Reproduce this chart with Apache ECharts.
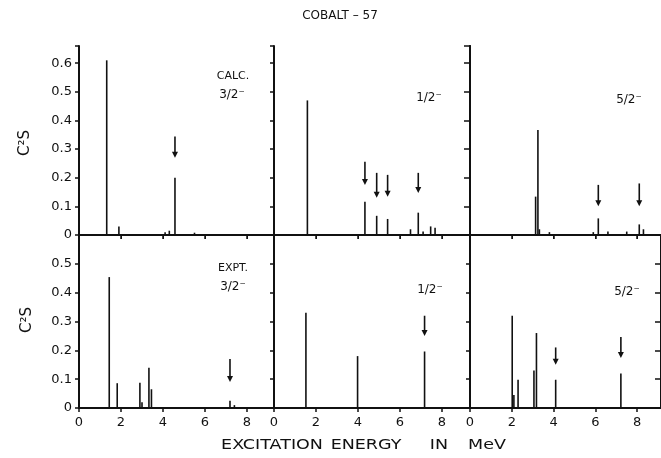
<!DOCTYPE html>
<html>
<head>
    <meta charset="utf-8">
    <script src="https://cdn.jsdelivr.net/npm/echarts@6/dist/echarts.min.js"></script>
</head>
<body style="margin:0;background:#fff">
<div id="main" style="width: 661px; height: 458px;"></div>
<script type="text/javascript">
    // lines: [energy MeV, C2S]   arrows: [energy, top, bottom]
    let calc32 = [[1.32, 0.61], [1.9, 0.03], [4.1, 0.01], [4.3, 0.015], [4.57, 0.2], [5.5, 0.008]]
    let calc12 = [[1.59, 0.47], [4.33, 0.116], [4.89, 0.067], [5.41, 0.056], [6.5, 0.02], [6.87, 0.078], [7.1, 0.012], [7.46, 0.03], [7.67, 0.025]]
    let calc52 = [[3.14, 0.134], [3.25, 0.367], [3.32, 0.02], [3.8, 0.01], [5.9, 0.01], [6.14, 0.058], [6.6, 0.012], [7.5, 0.012], [8.1, 0.037], [8.3, 0.02]]
    let expt32 = [[1.44, 0.454], [1.82, 0.086], [2.9, 0.088], [3.0, 0.02], [3.33, 0.14], [3.45, 0.065], [7.19, 0.025], [7.4, 0.01]]
    let expt12 = [[1.52, 0.33], [3.98, 0.18], [7.17, 0.196]]
    let expt52 = [[2.02, 0.32], [2.1, 0.045], [2.3, 0.098], [3.06, 0.13], [3.18, 0.26], [4.1, 0.098], [7.22, 0.12]]

    let arrCalc32 = [[4.57, 0.344, 0.27]]
    let arrCalc12 = [[4.33, 0.256, 0.175], [4.89, 0.217, 0.13], [5.41, 0.21, 0.134], [6.87, 0.217, 0.147]]
    let arrCalc52 = [[6.14, 0.175, 0.1], [8.1, 0.18, 0.1]]
    let arrExpt32 = [[7.19, 0.17, 0.09]]
    let arrExpt12 = [[7.17, 0.32, 0.25]]
    let arrExpt52 = [[4.1, 0.21, 0.15], [7.22, 0.246, 0.173]]

    let xTicks = [0, 2, 4, 6, 8]
    let yTicks = [0, 0.1, 0.2, 0.3, 0.4, 0.5, 0.6]

    let lines = [calc32, calc12, calc52, expt32, expt12, expt52]
    let arrows = [arrCalc32, arrCalc12, arrCalc52, arrExpt32, arrExpt12, arrExpt52]

    let myChart = echarts.init(document.getElementById('main'))
    let ink = '#111'
    let font = 'DejaVu Sans'

    let colLeft = [79, 274, 470]
    let xMax = [9.29, 9.33, 9.14]
    let pxPerMeV = 21

    let grid = []
    let xAxis = []
    let yAxis = []
    let series = []

    function yLabel(v) {
        let hit = yTicks.find(t => Math.abs(t - v) < 1e-6)
        if (hit === undefined) return ''
        return hit === 0 ? '0' : hit.toFixed(1)
    }

    function xLabel(v) {
        return xTicks.indexOf(v) >= 0 ? String(v) : ''
    }

    for (let i = 0; i < 6; i++) {
        let row = Math.floor(i / 3)
        let col = i % 3
        grid.push({
            left: colLeft[col],
            top: row === 0 ? 46 : 235,
            width: xMax[col] * pxPerMeV,
            height: row === 0 ? 189 : 173
        })
        xAxis.push({
            type: 'value', gridIndex: i, min: 0, max: xMax[col], interval: 2,
            axisLine: {onZero: false, lineStyle: {color: ink, width: 2}},
            axisTick: {show: true, length: 4, lineStyle: {color: ink, width: 1.5}},
            axisLabel: {
                show: row === 1, formatter: xLabel, showMaxLabel: false,
                color: ink, fontFamily: font, fontSize: 13, margin: 8
            },
            splitLine: {show: false}
        })
        yAxis.push({
            type: 'value', gridIndex: i, min: 0, max: row === 0 ? 0.66 : 0.6, interval: 0.1,
            axisLine: {show: true, lineStyle: {color: ink, width: 2}},
            axisTick: {show: true, length: 4, lineStyle: {color: ink, width: 1.5}},
            axisLabel: {
                show: col === 0, formatter: yLabel, showMaxLabel: row === 0,
                color: ink, fontFamily: font, fontSize: 13, margin: 7
            },
            splitLine: {show: false}
        })
        series.push({
            type: 'bar', xAxisIndex: i, yAxisIndex: i,
            barWidth: 1.6, itemStyle: {color: ink},
            data: lines[i], silent: true, animation: false
        })
        series.push({
            type: 'custom', xAxisIndex: i, yAxisIndex: i,
            data: arrows[i], silent: true, animation: false,
            renderItem: function (params, api) {
                let top = api.coord([api.value(0), api.value(1)])
                let bot = api.coord([api.value(0), api.value(2)])
                return {
                    type: 'group',
                    children: [
                        {type: 'line', shape: {x1: top[0], y1: top[1], x2: bot[0], y2: bot[1] - 4},
                            style: {stroke: ink, lineWidth: 1.6}},
                        {type: 'polygon', shape: {points: [[bot[0] - 3, bot[1] - 6], [bot[0] + 3, bot[1] - 6], [bot[0], bot[1]]]},
                            style: {fill: ink}}
                    ]
                }
            }
        })
    }

    // top frame of upper row
    for (let c = 0; c < 3; c++) {
        xAxis.push({
            type: 'value', gridIndex: c, position: 'top', min: 0, max: xMax[c], interval: 2,
            axisLine: {lineStyle: {color: ink, width: 2}},
            axisTick: {inside: true, length: 4, lineStyle: {color: ink}},
            axisLabel: {show: false}, splitLine: {show: false}
        })
    }
    // right frame with inside ticks
    for (let g of [2, 5]) {
        yAxis.push({
            type: 'value', gridIndex: g, position: 'right', min: 0, max: g === 2 ? 0.66 : 0.6, interval: 0.1,
            axisLine: {show: true, lineStyle: {color: ink, width: 2}},
            axisTick: {inside: true, length: 6, lineStyle: {color: ink, width: 1.5}},
            axisLabel: {show: false}, splitLine: {show: false}
        })
    }

    function txt(x, y, s, size, extra) {
        return Object.assign({
            type: 'text', x: x, y: y, silent: true,
            style: {text: s, fill: ink, font: size + 'px "' + font + '"', align: 'center', verticalAlign: 'middle'}
        }, extra || {})
    }

    let wide = {scaleX: 1.25}

    let graphic = [
        txt(340, 16, 'COBALT – 57', 12),
        txt(233, 76, 'CALC.', 11),
        txt(232, 95, '3/2⁻', 12),
        txt(429, 98, '1/2⁻', 12),
        txt(629, 100, '5/2⁻', 12),
        txt(233, 268, 'EXPT.', 11),
        txt(233, 287, '3/2⁻', 12),
        txt(430, 290, '1/2⁻', 12),
        txt(627, 292, '5/2⁻', 12),
        txt(25, 143, 'C²S', 15, {rotation: Math.PI / 2}),
        txt(27, 320, 'C²S', 15, {rotation: Math.PI / 2}),
        txt(272, 445, 'EXCITATION', 14, wide),
        txt(366, 445, 'ENERGY', 14, wide),
        txt(439, 445, 'IN', 14, wide),
        txt(487, 445, 'MeV', 14, wide)
    ]

    myChart.setOption({
        backgroundColor: '#fff',
        animation: false,
        grid: grid,
        xAxis: xAxis,
        yAxis: yAxis,
        series: series,
        graphic: graphic
    })
</script>
</body>
</html>
